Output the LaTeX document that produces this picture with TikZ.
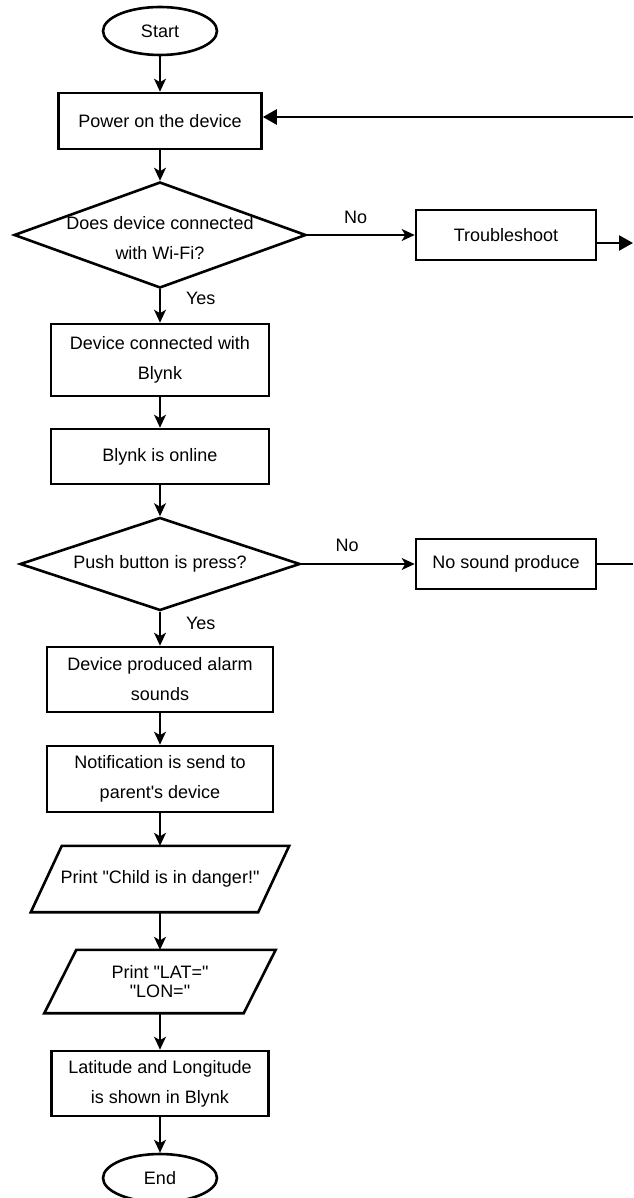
\documentclass[tikz,border=0pt]{standalone}
\usepackage{fontspec}
\setmainfont{Liberation Sans}[Ligatures=TeXOff]
\usetikzlibrary{shapes.geometric,arrows.meta}
\begin{document}
\begin{tikzpicture}[x=1pt,y=-1pt,
  every node/.style={font=\fontsize{18}{30}\selectfont, text=black},
  box/.style={draw, line width=2.6pt, rectangle, inner sep=0pt, align=center},
  term/.style={draw, line width=2.6pt, ellipse, minimum width=114pt, minimum height=48pt, inner sep=0pt},
  dec/.style={draw, line width=2.6pt, diamond, inner sep=0pt},
  paratext/.style={inner sep=0pt, align=center},
  paraline/.style={line width=2.6pt, line join=miter},
  flow/.style={line width=1.4pt, -{Stealth[length=13pt,width=12pt,inset=3.5pt]}},
  plain/.style={line width=1.4pt},
  bold/.style={line width=2.4pt, -{Triangle[length=14pt,width=15pt]}}
]
\useasboundingbox (0,0) rectangle (633,1198);
\clip (0,0) rectangle (633,1198);

% nodes
\node[term] (start) at (160,31) {Start};
\node[box, minimum width=203pt, minimum height=56pt] (pw) at (160,121) {Power on the device};
\node[dec, minimum width=292pt, minimum height=106pt] (d1) at (160,235) {};
\node[align=center] (d1t) at (160,238) {Does device connected\\with Wi-Fi?};
\node[box, minimum width=180pt, minimum height=50pt] (ts) at (506,235) {Troubleshoot};
\node[box, minimum width=218pt, minimum height=72pt] (dev) at (160,360) {Device connected with\\Blynk};
\node[box, minimum width=218pt, minimum height=55pt] (on) at (160,456.5) {Blynk is online};
\node[dec, minimum width=280pt, minimum height=93pt] (d2) at (160,564) {};
\node (d2t) at (160,564) {Push button is press?};
\node[box, minimum width=180pt, minimum height=50pt] (ns) at (506,564) {No sound produce};
\node[box, minimum width=226pt, minimum height=65pt] (al) at (160,679.5) {Device produced alarm\\sounds};
\node[box, minimum width=226pt, minimum height=66pt] (nt) at (160,779) {Notification is send to\\parent's device};
\node[paratext, minimum width=227pt, minimum height=66pt] (p1) at (160,879) {Print "Child is in danger!"};
\node[paratext, minimum width=199pt, minimum height=63pt, font=\fontsize{18}{19}\selectfont] (p2) at (160,981.5) {Print "LAT="\\"LON="};
\node[box, minimum width=217pt, minimum height=65pt] (lat) at (160,1083.5) {Latitude and Longitude\\is shown in Blynk};
\node[term] (end) at (160,1178) {End};

% parallelogram outlines
\draw[paraline] ([xshift=-15.5pt]p1.south west) -- ([xshift=-15.5pt]p1.south east)
  -- ([xshift=15.5pt]p1.north east) -- ([xshift=15.5pt]p1.north west) -- cycle;
\draw[paraline] ([xshift=-16pt]p2.south west) -- ([xshift=-16pt]p2.south east)
  -- ([xshift=16pt]p2.north east) -- ([xshift=16pt]p2.north west) -- cycle;

% free ends at the right edge
\coordinate (loopin) at (633,117);
\coordinate (tsout) at (633,243);
\coordinate (nsout) at (633,564);

% connectors
\draw[flow] (start) -- (pw);
\draw[flow] (pw) -- (d1);
\draw[flow] (d1) -- node[pos=0.28, right=22pt] {Yes} (dev);
\draw[flow] (d1.east) -- node[pos=0.45, above=7pt] {No} (ts.west);
\draw[flow] (dev) -- (on);
\draw[flow] (on) -- (d2);
\draw[flow] (d2) -- node[pos=0.35, right=22pt] {Yes} (al);
\draw[flow] (d2.east) -- node[pos=0.405, above=8pt] {No} (ns.west);
\draw[flow] (al) -- (nt);
\draw[flow] (nt) -- (p1);
\draw[flow] (p1) -- (p2);
\draw[flow] (p2) -- (lat);
\draw[flow] (lat) -- (end);
\draw[plain] (ns.east) -- (nsout);
\draw[bold] (loopin) -- (pw.east |- loopin);
\draw[bold] (ts.east |- tsout) -- (tsout);
\end{tikzpicture}
\end{document}
